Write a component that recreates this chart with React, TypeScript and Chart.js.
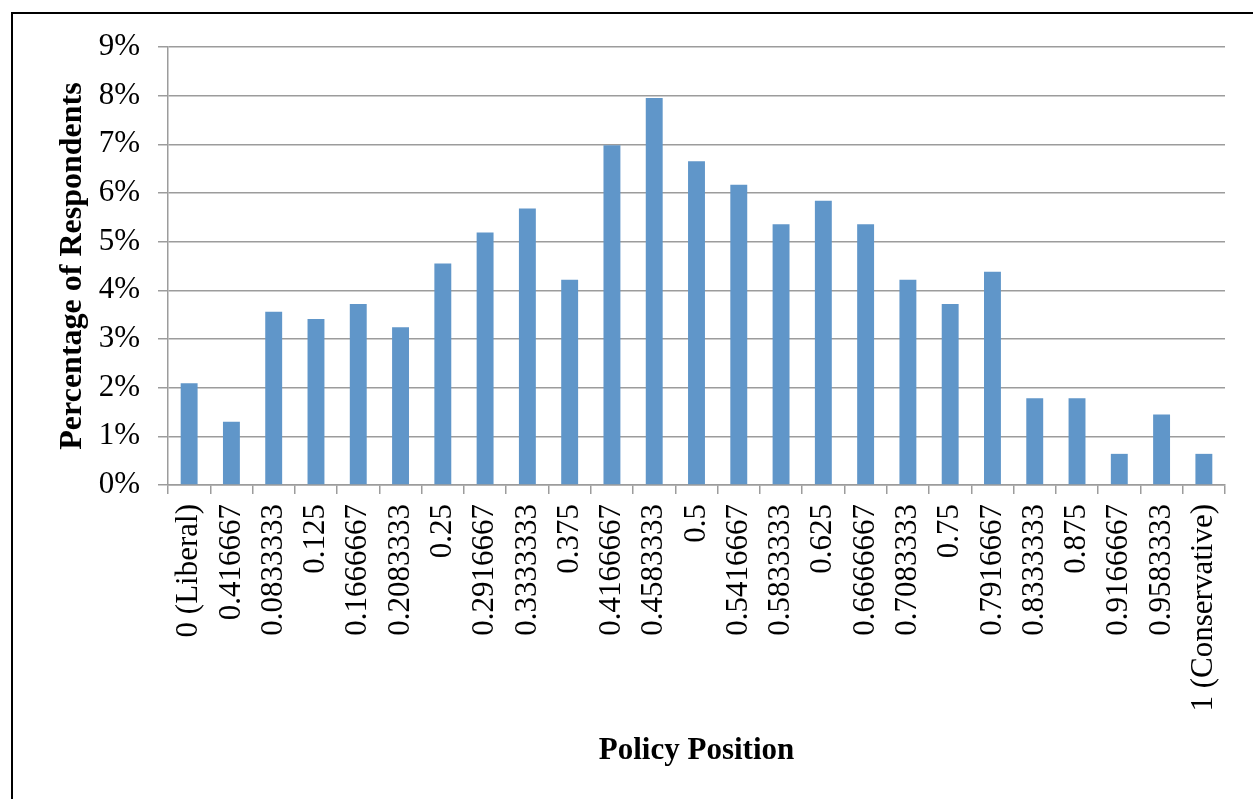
import React, { useEffect, useRef } from "react";
import { Chart, registerables } from "chart.js";

Chart.register(...registerables);

const categories: string[] = [
  "0 (Liberal)",
  "0.416667",
  "0.0833333",
  "0.125",
  "0.1666667",
  "0.2083333",
  "0.25",
  "0.2916667",
  "0.3333333",
  "0.375",
  "0.4166667",
  "0.4583333",
  "0.5",
  "0.5416667",
  "0.5833333",
  "0.625",
  "0.6666667",
  "0.7083333",
  "0.75",
  "0.7916667",
  "0.8333333",
  "0.875",
  "0.9166667",
  "0.9583333",
  "1 (Conservative)",
];

const percentRespondents: number[] = [
  2.09, 1.3, 3.56, 3.41, 3.72, 3.24, 4.55, 5.19, 5.68, 4.22, 6.98, 7.95, 6.65,
  6.17, 5.36, 5.84, 5.36, 4.22, 3.72, 4.38, 1.78, 1.78, 0.64, 1.45, 0.64,
];

const yTickValues: number[] = [0, 1, 2, 3, 4, 5, 6, 7, 8, 9];

const xTitle = "Policy Position";
const yTitle = "Percentage of Respondents";

const SERIF = "'Liberation Serif', 'Times New Roman', serif";
const GRID = "#9c9c9c";

const framePlugin = {
  id: "frame",
  beforeDraw(chart: any) {
    const { ctx, width, height } = chart;
    ctx.save();
    ctx.fillStyle = "#ffffff";
    ctx.fillRect(0, 0, width, height);
    ctx.strokeStyle = "#000000";
    ctx.lineWidth = 2;
    ctx.beginPath();
    ctx.moveTo(12, height + 5);
    ctx.lineTo(12, 13);
    ctx.lineTo(width + 5, 13);
    ctx.stroke();
    ctx.restore();
  },
};

export default function App() {
  const canvasRef = useRef<HTMLCanvasElement | null>(null);

  useEffect(() => {
    if (!canvasRef.current) return;
    const chart = new Chart(canvasRef.current, {
      type: "bar",
      data: {
        labels: categories,
        datasets: [
          {
            label: "Percentage of Respondents",
            data: percentRespondents,
            backgroundColor: "#6096c9",
            borderWidth: 0,
            barPercentage: 0.4,
            categoryPercentage: 1.0,
          },
        ],
      },
      options: {
        animation: false,
        responsive: true,
        maintainAspectRatio: false,
        layout: { padding: { left: 0, top: 47, right: 28, bottom: 0 } },
        plugins: {
          legend: { display: false },
          tooltip: { enabled: false },
        },
        scales: {
          x: {
            offset: true,
            grid: {
              display: true,
              offset: true,
              drawOnChartArea: false,
              drawTicks: true,
              tickLength: 9,
              color: GRID,
              lineWidth: 1.5,
            },
            border: { display: true, color: GRID, width: 1.5 },
            ticks: {
              autoSkip: false,
              maxRotation: 90,
              minRotation: 90,
              padding: 10,
              color: "#000000",
              font: { family: SERIF, size: 31 },
            },
            title: {
              display: true,
              text: xTitle,
              color: "#000000",
              font: { family: SERIF, size: 31, weight: "bold" },
              padding: { top: 0, bottom: 29 },
            },
            afterFit(scale: any) {
              scale.height = 314;
            },
          },
          y: {
            min: 0,
            max: 9,
            afterBuildTicks(scale: any) {
              scale.ticks = yTickValues.map((v) => ({ value: v }));
            },
            grid: {
              color: GRID,
              lineWidth: 1.5,
              drawTicks: true,
              tickLength: 10,
            },
            border: { display: true, color: GRID, width: 1.5 },
            ticks: {
              padding: 18,
              color: "#000000",
              font: { family: SERIF, size: 31 },
              callback: (v: any) => `${v}%`,
            },
            title: {
              display: true,
              text: yTitle,
              color: "#000000",
              font: { family: SERIF, size: 32, weight: "bold" },
              padding: { top: 54, bottom: 0 },
            },
            afterFit(scale: any) {
              scale.width = 168;
            },
          },
        },
      },
      plugins: [framePlugin],
    });
    return () => chart.destroy();
  }, []);

  return (
    <div
      style={{
        position: "absolute",
        left: 0,
        top: 0,
        width: 1253,
        height: 799,
        overflow: "hidden",
        background: "#fff",
      }}
    >
      <canvas ref={canvasRef} />
    </div>
  );
}
